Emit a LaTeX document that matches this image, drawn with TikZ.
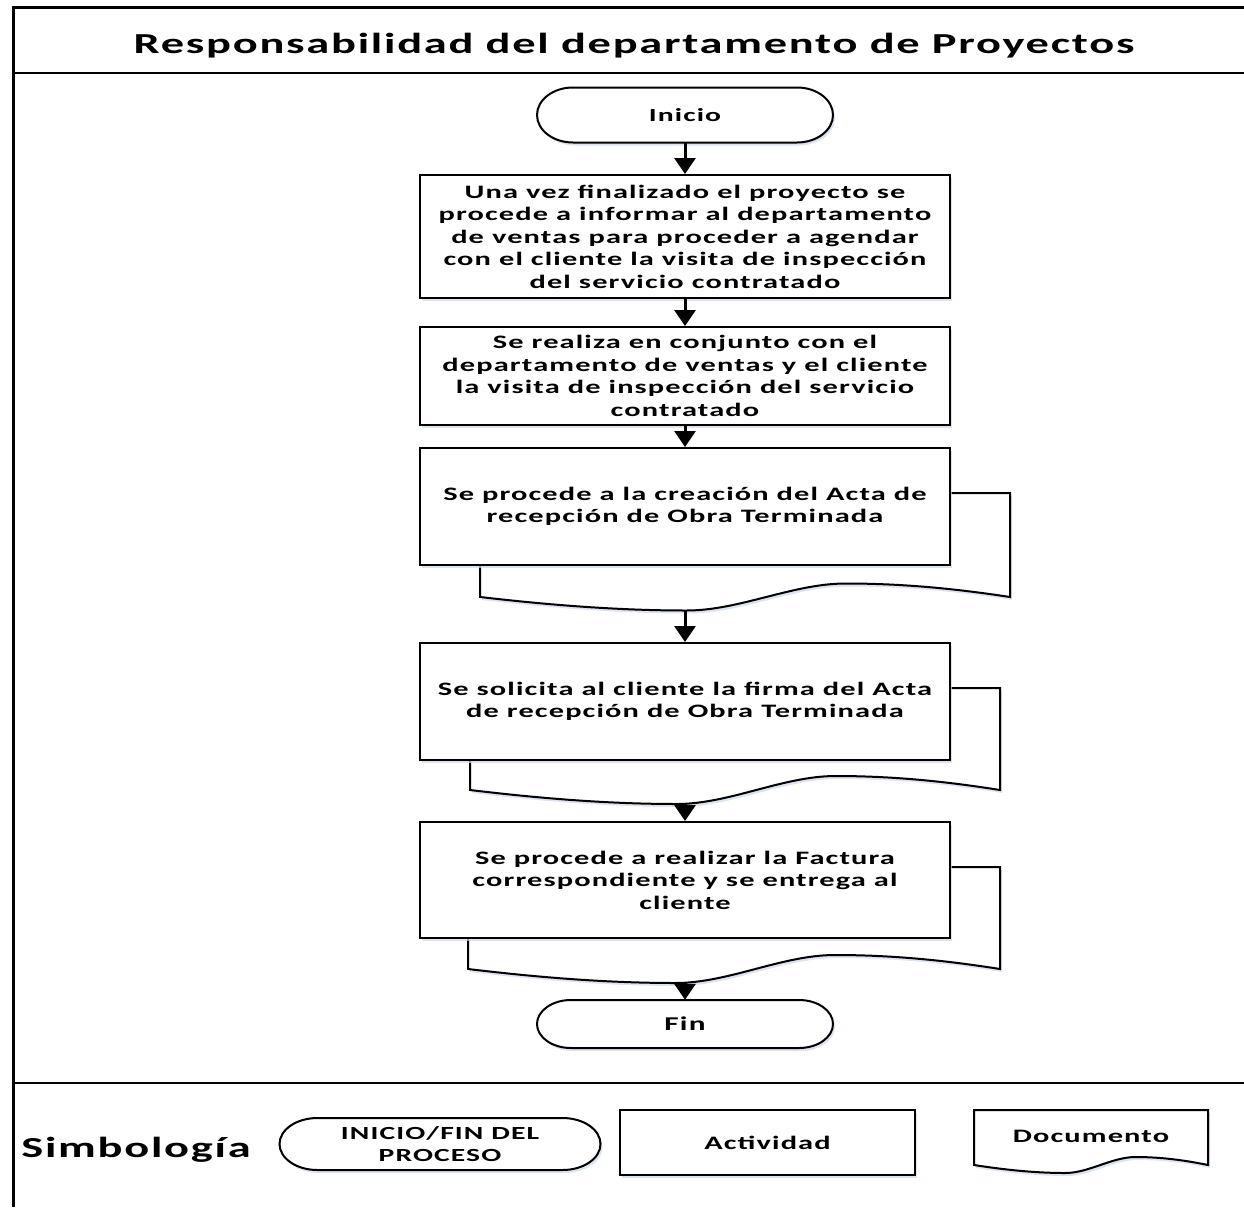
\documentclass[tikz,border=0pt]{standalone}
\usepackage{fontspec}
\setmainfont[FakeStretch=1.6,LetterSpace=6]{Carlito}
\usetikzlibrary{arrows.meta,shadows}

\definecolor{shadowblue}{RGB}{205,216,234}
\tikzset{
  >={Triangle[length=16pt,width=21pt]},
  box shadow/.style={drop shadow={shadow xshift=2pt,shadow yshift=-3pt,fill=shadowblue,opacity=.7}},
}
\tikzstyle{frame}=[line width=3pt]
\tikzstyle{sep}=[line width=2.2pt]
\tikzstyle{flow}=[line width=3pt,->]
\tikzstyle{outline}=[draw,line width=2pt,fill=white,box shadow]
\tikzstyle{txt}=[align=center,inner sep=0pt,font=\bfseries\fontsize{19}{22.5}\selectfont]
\tikzstyle{activity}=[outline,txt,minimum width=530pt]
\tikzstyle{terminal}=[txt,minimum width=296pt]

% start/end symbol: centre x, centre y, half width, half height, end radius
\newcommand{\termoutline}[5]{%
  \draw[outline] ({#1-#3+#5},{#2+#4}) -- ({#1+#3-#5},{#2+#4})
    arc[start angle=90,end angle=-90,x radius=#5,y radius=#4]
    -- ({#1-#3+#5},{#2-#4})
    arc[start angle=270,end angle=90,x radius=#5,y radius=#4] -- cycle;}
% document sheet: left, right, top, ends of the wave, wave depth
\newcommand{\docsheet}[5]{%
  \draw[outline] (#1,#3) -- (#2,#3) -- (#2,#4)
    .. controls ({#2-0.1*(#2-#1)},{#4+0.6*#5}) and ({#1+0.8*(#2-#1)},{#4+#5}) .. ({#1+0.69*(#2-#1)},{#4+#5})
    .. controls ({#1+0.59*(#2-#1)},{#4+#5}) and ({#1+0.49*(#2-#1)},{#4-#5}) .. ({#1+0.39*(#2-#1)},{#4-#5})
    .. controls ({#1+0.24*(#2-#1)},{#4-#5}) and ({#1+0.1*(#2-#1)},{#4-0.45*#5}) .. (#1,#4) -- cycle;}

\begin{document}
\begin{tikzpicture}[x=1pt,y=1pt]
  \useasboundingbox (0,0) rectangle (1244,-1207);

  % frame
  \draw[frame] (13,-1207) -- (13,-8) -- (1244,-8);
  \draw[sep] (13,-73) -- (1244,-73);
  \draw[sep] (13,-1083) -- (1244,-1083);
  \node (title) at (634,-46) {\bfseries\fontsize{29}{34}\selectfont Responsabilidad del departamento de Proyectos};

  % flow
  \termoutline{685}{-115}{148}{27.5}{36}
  \node[terminal,minimum height=55pt,font=\bfseries\fontsize{18.5}{22}\selectfont] (ini) at (685,-115) {Inicio};
  \node[activity,minimum height=123pt] (a1) at (685,-236.5)
    {Una vez finalizado el proyecto se\\procede a informar al departamento\\de ventas para proceder a agendar\\con el cliente la visita de inspección\\del servicio contratado};
  \node[activity,minimum height=98pt] (a2) at (685,-376)
    {Se realiza en conjunto con el\\departamento de ventas y el cliente\\la visita de inspección del servicio\\contratado};

  \docsheet{480}{1010}{-493}{-597}{13.5}
  \node[activity,minimum height=117pt] (d3) at (685,-506.5)
    {Se procede a la creación del Acta de\\recepción de Obra Terminada};
  \coordinate (d3w) at (685,-610);

  \docsheet{470}{1000}{-688}{-790}{14}
  \node[activity,minimum height=117pt] (d4) at (685,-701.5)
    {Se solicita al cliente la firma del Acta\\de recepción de Obra Terminada};
  \coordinate (d4w) at (685,-803);

  \docsheet{468}{1000}{-867}{-969}{14}
  \node[activity,minimum height=116pt] (d5) at (685,-880)
    {Se procede a realizar la Factura\\correspondiente y se entrega al\\cliente};
  \coordinate (d5w) at (685,-982);

  \termoutline{685}{-1024}{148}{24}{34}
  \node[terminal,minimum height=48pt,font=\bfseries\fontsize{19.5}{22}\selectfont] (fin) at (685,-1024) {Fin};

  \draw[flow] (ini) -- (a1);
  \draw[flow] (a1) -- (a2);
  \draw[flow] (a2) -- (d3);
  \draw[flow] (d3w) -- (d4);
  \draw[flow] (d4w) -- (d5);
  \draw[flow] (d5w) -- (fin);

  % legend
  \node (simb) at (136,-1150) {\bfseries\fontsize{29}{34}\selectfont Simbología};
  \termoutline{440}{-1144}{160.5}{26}{38}
  \node[txt,font=\bfseries\fontsize{18.5}{22}\selectfont] (legterm) at (440,-1144) {INICIO/FIN DEL\\PROCESO};
  \node[outline,txt,minimum width=295pt,minimum height=65pt] (legact) at (767.5,-1142.5) {Actividad};
  \docsheet{974}{1208}{-1110}{-1165}{8}
  \node[txt] (legdoc) at (1091,-1136) {Documento};
\end{tikzpicture}
\end{document}
